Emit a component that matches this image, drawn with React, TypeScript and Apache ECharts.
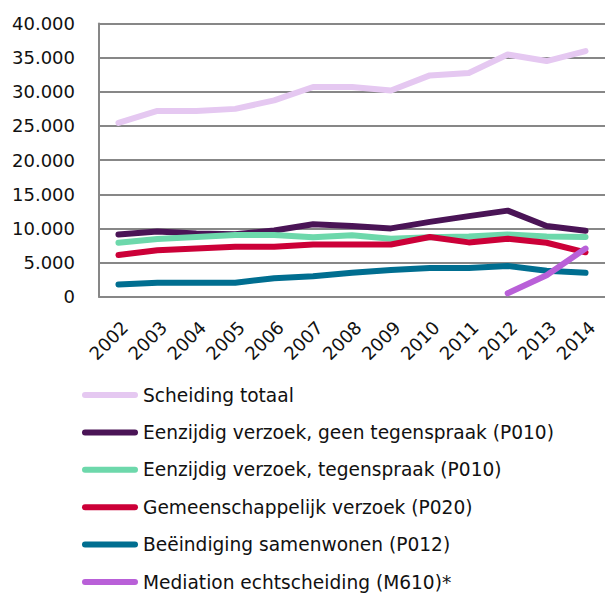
import React, { useEffect, useRef } from "react";
import * as echarts from "echarts";

const years = ["2002","2003","2004","2005","2006","2007","2008","2009","2010","2011","2012","2013","2014"];
const yTicks = { min: 0, max: 40000, interval: 5000 };

const seriesNames = [
  "Scheiding totaal",
  "Eenzijdig verzoek, geen tegenspraak (P010)",
  "Eenzijdig verzoek, tegenspraak (P010)",
  "Gemeenschappelijk verzoek (P020)",
  "Beëindiging samenwonen (P012)",
  "Mediation echtscheiding (M610)*",
];
const seriesColors = ["#E5C8F1", "#4A1456", "#6DD8AB", "#CC0038", "#006E90", "#B960D8"];

const scheidingTotaal = [25450, 27200, 27200, 27500, 28750, 30700, 30700, 30200, 32400, 32750, 35450, 34500, 35950];
const eenzijdigGeen = [9100, 9550, 9250, 9150, 9700, 10600, 10350, 10000, 10950, 11800, 12600, 10350, 9650];
const eenzijdigTegen = [7900, 8450, 8750, 9050, 9050, 8700, 9000, 8500, 8700, 8800, 9100, 8800, 8750];
const gemeenschappelijk = [6100, 6800, 7050, 7300, 7300, 7650, 7650, 7650, 8750, 7950, 8500, 7900, 6500];
const beeindiging = [1800, 2050, 2050, 2050, 2700, 3000, 3500, 3900, 4200, 4200, 4500, 3800, 3500];
const mediation = [null, null, null, null, null, null, null, null, null, null, 500, 3150, 7050];

const allData = [scheidingTotaal, eenzijdigGeen, eenzijdigTegen, gemeenschappelijk, beeindiging, mediation];

const FONT = "DejaVu Sans";

function fmt(v: number): string {
  return String(Math.round(v)).replace(/\B(?=(\d{3})+(?!\d))/g, ".");
}

export default function App() {
  const ref = useRef<HTMLDivElement>(null);
  useEffect(() => {
    document.body.style.margin = "0";
    if (!ref.current) return;
    const chart = echarts.init(ref.current, null, { renderer: "svg" });
    chart.setOption({
      animation: false,
      backgroundColor: "#ffffff",
      textStyle: { fontFamily: FONT },
      grid: { left: 99, top: 23.5, width: 513, height: 273.2, containLabel: false },
      legend: {
        orient: "vertical",
        left: 82,
        top: 385,
        height: 260,
        padding: 0,
        itemWidth: 56,
        itemHeight: 6,
        itemGap: 17.4,
        icon: "path://M3,0 L53,0 A3,3 0 0 1 53,6 L3,6 A3,3 0 0 1 3,0 Z",
        textStyle: { fontFamily: FONT, fontSize: 18.6, color: "#111", lineHeight: 20 },
        data: seriesNames,
        selectedMode: false,
      },
      xAxis: {
        type: "category",
        data: years,
        boundaryGap: true,
        axisLine: { show: true, lineStyle: { color: "#878787", width: 2 } },
        axisTick: { show: false },
        axisLabel: { rotate: 45, margin: 34, padding: [0, -9, 0, 0], fontFamily: FONT, fontSize: 18, color: "#111", interval: 0 },
        splitLine: { show: false },
      },
      yAxis: {
        type: "value",
        min: yTicks.min,
        max: yTicks.max,
        interval: yTicks.interval,
        axisLine: { show: true, lineStyle: { color: "#878787", width: 2 } },
        axisTick: { show: false },
        axisLabel: { margin: 24, fontFamily: FONT, fontSize: 18, color: "#111", formatter: (v: number) => fmt(v) },
        splitLine: { show: true, lineStyle: { color: "#878787", width: 2 } },
      },
      series: seriesNames.map((name, i) => ({
        name,
        type: "line",
        data: allData[i],
        symbol: "none",
        showSymbol: false,
        connectNulls: false,
        color: seriesColors[i],
        lineStyle: { color: seriesColors[i], width: 6, cap: "round", join: "round" },
        itemStyle: { color: seriesColors[i] },
        z: 2 + i,
      })),
    });
    return () => chart.dispose();
  }, []);
  return <div ref={ref} style={{ width: 605, height: 594 }} />;
}
